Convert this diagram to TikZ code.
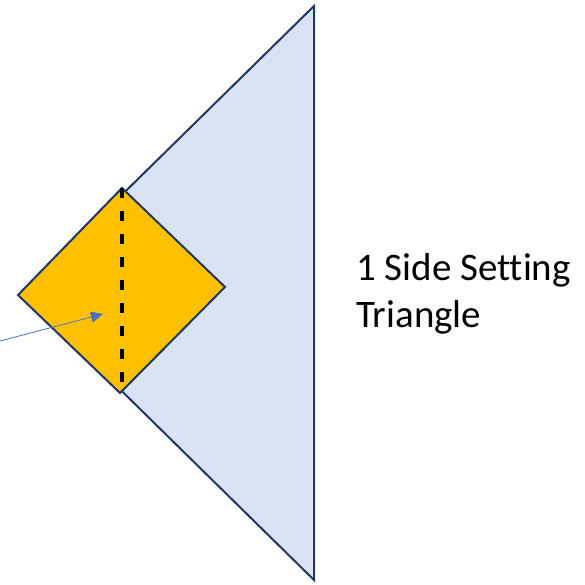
\documentclass[tikz,border=0pt]{standalone}
\usepackage{fontspec}
\setmainfont[Ligatures=NoCommon]{Carlito}
\usetikzlibrary{arrows.meta}
\definecolor{navy}{HTML}{1F3864}
\definecolor{paleblue}{HTML}{DAE3F3}
\definecolor{gold}{HTML}{FFC000}
\definecolor{arrowblue}{HTML}{4472C4}
\tikzset{
  shapeline/.style={draw=navy, line width=2pt, line join=miter},
  labeltext/.style={font=\fontsize{39}{47}\selectfont, align=left, anchor=west, inner sep=0pt},
}
\begin{document}
\begin{tikzpicture}[x=1pt,y=-1pt]
\useasboundingbox (0,0) rectangle (584,585);
% triangle
\coordinate (tA) at (314,6);
\coordinate (tB) at (314,580);
\coordinate (tC) at (22,293);
\draw[shapeline, fill=paleblue] (tA) -- (tB) -- (tC) -- cycle;
% diamond
\coordinate (dL) at (18,295);
\coordinate (dT) at (122,188);
\coordinate (dR) at (225,287);
\coordinate (dB) at (120,393);
\draw[shapeline, fill=gold] (dL) -- (dT) -- (dR) -- (dB) -- cycle;
% dashed fold line
\coordinate (fT) at (122,188);
\coordinate (fB) at (122,385);
\draw[black, line width=3.2pt, dash pattern=on 10pt off 13pt] (fT) -- (fB);
% arrow
\coordinate (aS) at (0,341);
\coordinate (aE) at (103,314);
\draw[arrowblue, line width=0.8pt, -{Triangle[length=12pt,width=11pt]}] (aS) -- (aE);
% label
\node[labeltext] (lbl) at (356,294) {1 Side Setting\\Triangle};
\end{tikzpicture}
\end{document}
